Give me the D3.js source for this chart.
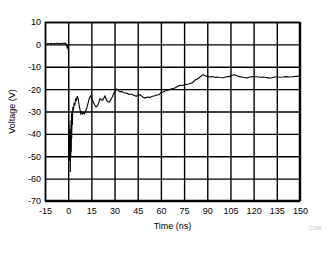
<!DOCTYPE html>
<html>
<head>
<meta charset="utf-8">
<script src="https://cdn.jsdelivr.net/npm/d3@7"></script>
<style>
  body { margin: 0; background: #fff; }
  svg { display: block; }
  text { font-family: "Liberation Sans", Arial, sans-serif; font-size: 9px; fill: #000; }
</style>
</head>
<body>
<div id="chart"></div>
<script>
// time in ns
const timeNs = [-15,-14,-13,-12,-11,-10,-9,-8,-7,-6,-5,-4,-3,-2,-1.5,-1,-0.6,-0.2,0.2,0.35,0.5,0.65,0.8,0.95,1.1,1.25,1.4,1.55,1.7,1.85,2.0,2.15,2.3,2.5,2.7,3.0,3.4,3.8,4.3,4.8,5.3,5.9,6.5,7.1,7.6,8.2,8.7,9.2,9.8,10.4,11.0,11.9,12.8,13.6,14.5,15.3,16.2,17.1,18.0,18.8,19.5,20.6,21.5,22.3,23.1,23.8,24.9,25.8,26.6,27.5,28.5,29.5,30.5,31.4,32.5,33.5,34.6,36,37.8,39.5,41,42,43,44,45,46.4,47.5,48.5,49.7,51,52.9,54.5,56.1,57.5,59,60,61.5,63,64.5,66,67.8,69,70.5,72.3,74,75.5,76.6,78,79.8,81,82,83.5,85.2,86.3,87.3,88.5,90,91.7,93.5,95,96,98,100,102,104.6,106,107.8,109.5,111,113,115.3,117.5,119.6,122,124,126,128,130.5,133,135,137,139,141,143,145,147.5,150];

// voltage in V
const voltage = [0.3,0.1,0.4,0.2,0.5,0.2,0.4,0.3,0.6,0.2,0.5,0.3,0.5,0.6,0.2,-0.3,-1.6,-0.8,-1.5,-33,-50,-36,-52,-40,-51,-39,-57,-38,-50,-34,-48,-31,-42,-30,-36,-28,-29.5,-26.5,-27,-24.5,-25,-23.1,-24.5,-27.3,-29,-31,-30.3,-31.2,-30.5,-31,-30.2,-28.8,-26.5,-24.3,-23.1,-24.2,-25.8,-27,-28,-27.5,-26.6,-24.3,-24.8,-25,-24,-23.1,-25,-25.6,-25.8,-24.8,-23.5,-22,-20.8,-20,-20.6,-21.2,-21,-21.6,-21.8,-22.4,-22.2,-22.6,-22.9,-23.2,-22.8,-22.5,-23.1,-23.6,-24,-23.5,-23.7,-23.2,-23,-22.6,-22.4,-21.5,-21.3,-20.7,-20.6,-20.1,-19.7,-19.5,-18.9,-18.3,-18.4,-18,-17.9,-17.7,-17.3,-16.8,-16,-15.5,-14.7,-14,-13.5,-14,-14.3,-14.6,-14.4,-14.8,-14.6,-14.8,-14.9,-14.6,-14.3,-13.8,-13.6,-14.1,-14.4,-14.7,-15,-14.6,-14.4,-14.5,-14.7,-14.6,-14.8,-15.1,-14.7,-14.5,-14.7,-14.6,-14.4,-14.6,-14.5,-14.3,-14.1];

const xTicks = [-15,0,15,30,45,60,75,90,105,120,135,150];
const yTicks = [10,0,-10,-20,-30,-40,-50,-60,-70];

const width = 333, height = 254;
const margin = {top: 22, right: 33, bottom: 53, left: 45};

const svg = d3.select('#chart')
    .append('svg')
    .attr('width', width)
    .attr('height', height);

const x = d3.scaleLinear().domain([-15, 150]).range([margin.left, width - margin.right]);
const y = d3.scaleLinear().domain([-70, 10]).range([height - margin.bottom, margin.top]);

// plain hyphen for negatives, like the original
const fmt = d => String(d);

// grid
svg.append('g')
    .attr('transform', `translate(0,${height - margin.bottom})`)
    .call(d3.axisBottom(x).tickValues(xTicks).tickFormat(fmt).tickSize(-(height - margin.top - margin.bottom)).tickPadding(7))
    .call(g => g.select('.domain').remove())
    .call(g => g.selectAll('line').attr('stroke', '#000').attr('stroke-width', 1.4))
    .call(g => g.selectAll('text').attr('font-family', null).attr('font-size', null).attr('dy', '0.71em'));

svg.append('g')
    .attr('transform', `translate(${margin.left},0)`)
    .call(d3.axisLeft(y).tickValues(yTicks).tickFormat(fmt).tickSize(-(width - margin.left - margin.right)).tickPadding(4))
    .call(g => g.select('.domain').remove())
    .call(g => g.selectAll('line').attr('stroke', '#000').attr('stroke-width', 1.4))
    .call(g => g.selectAll('text').attr('font-family', null).attr('font-size', null));

svg.append('rect')
    .attr('x', margin.left + 0.5)
    .attr('y', margin.top + 0.5)
    .attr('width', width - margin.left - margin.right - 1)
    .attr('height', height - margin.top - margin.bottom - 1)
    .attr('fill', 'none')
    .attr('stroke', '#000')
    .attr('stroke-width', 1.5);

const line = d3.line()
    .x((d, i) => x(timeNs[i]))
    .y(d => y(d));

svg.append('path')
    .datum(voltage)
    .attr('d', line)
    .attr('fill', 'none')
    .attr('stroke', '#000')
    .attr('stroke-width', 1.1);

svg.append('text')
    .attr('x', (margin.left + width - margin.right) / 2)
    .attr('y', 229)
    .attr('text-anchor', 'middle')
    .text('Time (ns)');

svg.append('text')
    .attr('transform', `translate(15,${(margin.top + height - margin.bottom) / 2}) rotate(-90)`)
    .attr('text-anchor', 'middle')
    .text('Voltage (V)');

svg.append('text')
    .attr('x', 321)
    .attr('y', 230)
    .attr('text-anchor', 'end')
    .style('font-size', '5px')
    .style('fill', '#bbb')
    .text('C004');
</script>
</body>
</html>
